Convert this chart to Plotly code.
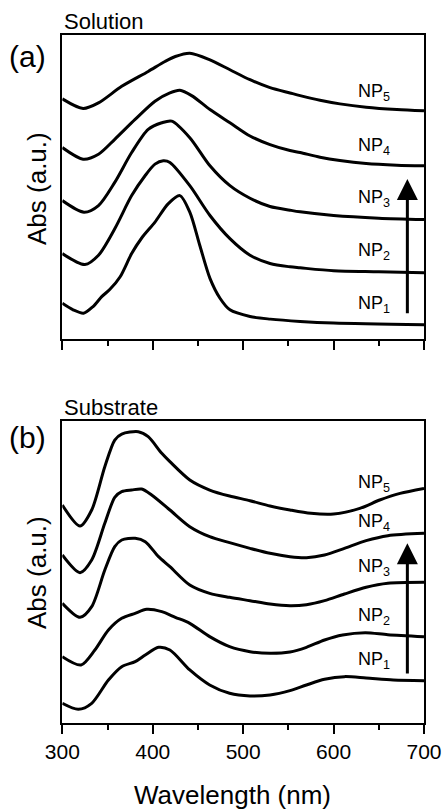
import plotly.graph_objects as go

FONT = "Liberation Sans, Arial, sans-serif"

# ---------- Panel (a): Solution ----------
sol_np1_x = [300, 312, 323.5, 334, 343.6, 352.7, 364, 376.7, 387.8, 402.5, 417, 430, 441, 452, 463.3, 474.4, 485.4, 507.6, 530, 563, 600, 700]
sol_np1_y = [1.05, 0.85, 0.75, 0.95, 1.25, 1.47, 1.85, 2.55, 3.02, 3.50, 4.05, 4.30, 3.80, 2.80, 1.80, 1.20, 0.85, 0.65, 0.57, 0.50, 0.45, 0.40]

sol_np2_x = [300, 325, 340, 358, 376.7, 391.5, 402.5, 411.7, 419, 441, 463.3, 485.4, 507.6, 529.7, 551.8, 563, 600, 650, 700]
sol_np2_y = [2.55, 2.22, 2.50, 3.30, 4.30, 4.90, 5.25, 5.35, 5.30, 4.60, 3.70, 3.00, 2.50, 2.25, 2.15, 2.12, 2.03, 2.00, 1.97]

sol_np3_x = [300, 324, 340, 358, 376.7, 395, 410, 421, 441, 463.3, 485.4, 507.6, 529.7, 551.8, 563, 600, 650, 700]
sol_np3_y = [4.15, 3.80, 4.00, 4.70, 5.60, 6.30, 6.50, 6.55, 6.05, 5.20, 4.60, 4.22, 3.97, 3.86, 3.81, 3.70, 3.62, 3.58]

sol_np4_x = [300, 323, 340, 358, 380.5, 402.5, 419, 430, 443, 463.3, 485.4, 507.6, 529.7, 551.8, 563, 585, 607, 636, 670, 700]
sol_np4_y = [5.75, 5.40, 5.55, 6.00, 6.60, 7.15, 7.40, 7.48, 7.32, 6.90, 6.50, 6.10, 5.84, 5.66, 5.60, 5.46, 5.36, 5.27, 5.22, 5.20]

sol_np5_x = [300, 323, 340, 365.7, 395, 413.6, 425, 441, 463.3, 485.4, 507.6, 529.7, 551.8, 563, 585, 607, 636, 670, 700]
sol_np5_y = [7.22, 6.93, 7.10, 7.60, 8.05, 8.35, 8.50, 8.60, 8.40, 8.10, 7.80, 7.56, 7.40, 7.32, 7.18, 7.07, 6.97, 6.90, 6.86]

# ---------- Panel (b): Substrate ----------
sub_np1_x = [300, 317.7, 332.5, 351, 365.7, 380.6, 391.7, 406.4, 419, 441, 463, 485, 507.6, 529.7, 551.8, 570, 590, 612, 636, 666, 700]
sub_np1_y = [0.60, 0.42, 0.60, 1.30, 1.70, 1.85, 2.05, 2.28, 2.20, 1.60, 1.15, 0.90, 0.82, 0.85, 0.98, 1.15, 1.32, 1.40, 1.36, 1.30, 1.28]

sub_np2_x = [300, 320.7, 336, 351, 365.7, 380.5, 393.3, 410, 425, 441, 463, 485, 507.6, 529.7, 551.8, 570, 590, 610, 635, 660, 700]
sub_np2_y = [2.00, 1.75, 2.20, 2.80, 3.15, 3.30, 3.42, 3.35, 3.18, 3.00, 2.60, 2.30, 2.15, 2.10, 2.14, 2.28, 2.50, 2.65, 2.72, 2.66, 2.60]

sub_np3_x = [300, 319.6, 332.5, 347, 358, 365.7, 380.6, 391.7, 406.4, 419, 441, 463, 485, 507.6, 529.7, 551.8, 570, 590, 612, 636, 660, 700]
sub_np3_y = [3.60, 3.18, 3.50, 4.60, 5.30, 5.50, 5.55, 5.45, 5.00, 4.70, 4.15, 3.90, 3.78, 3.68, 3.58, 3.53, 3.56, 3.68, 3.88, 4.08, 4.20, 4.23]

sub_np4_x = [300, 319.6, 332.5, 347, 358, 365.7, 376.8, 387.8, 398.8, 419, 441, 463, 485, 507.6, 529.7, 551.8, 570, 590, 612, 636, 660, 700]
sub_np4_y = [5.05, 4.52, 4.90, 6.00, 6.78, 6.95, 7.00, 7.03, 6.85, 6.40, 5.90, 5.60, 5.42, 5.25, 5.10, 5.00, 4.97, 5.05, 5.25, 5.48, 5.63, 5.70]

sub_np5_x = [300, 319.6, 332.5, 347, 358, 365.7, 384, 395, 410, 419, 441, 463, 485, 507.6, 529.7, 551.8, 575, 600, 629, 651, 673.5, 700]
sub_np5_y = [6.55, 5.92, 6.40, 7.70, 8.50, 8.68, 8.75, 8.60, 8.10, 7.85, 7.30, 7.00, 6.82, 6.68, 6.52, 6.40, 6.30, 6.28, 6.45, 6.70, 6.90, 7.05]

labels = ["NP<sub>1</sub>", "NP<sub>2</sub>", "NP<sub>3</sub>", "NP<sub>4</sub>", "NP<sub>5</sub>"]
label_x = 624.8
sol_label_y = [1.02, 2.62, 4.20, 5.78, 7.42]
sub_label_y = [1.88, 3.19, 4.68, 6.04, 7.21]

arrow_x = 681.6
sol_arrow = (0.70, 4.80)
sub_arrow = (1.45, 5.40)

x_ticks = [300, 400, 500, 600, 700]

sol_series = [(sol_np1_x, sol_np1_y), (sol_np2_x, sol_np2_y), (sol_np3_x, sol_np3_y),
              (sol_np4_x, sol_np4_y), (sol_np5_x, sol_np5_y)]
sub_series = [(sub_np1_x, sub_np1_y), (sub_np2_x, sub_np2_y), (sub_np3_x, sub_np3_y),
              (sub_np4_x, sub_np4_y), (sub_np5_x, sub_np5_y)]

W, H = 443, 809
fig = go.Figure()
line = dict(color="black", width=3, shape="spline", smoothing=0.8)
for i, (xs, ys) in enumerate(sol_series):
    fig.add_trace(go.Scatter(x=xs, y=ys, mode="lines", line=line, xaxis="x", yaxis="y",
                             showlegend=False, hoverinfo="skip", name=labels[i]))
for i, (xs, ys) in enumerate(sub_series):
    fig.add_trace(go.Scatter(x=xs, y=ys, mode="lines", line=line, xaxis="x2", yaxis="y2",
                             showlegend=False, hoverinfo="skip", name=labels[i]))

left, right = 62.3 / W, 424 / W
top_dom = [(H - 339) / H, (H - 35) / H]
bot_dom = [(H - 723.3) / H, (H - 420.7) / H]

xcommon = dict(range=[300, 700], showline=True, linecolor="black", linewidth=1.5, mirror=True,
               ticks="outside", ticklen=9, tickwidth=1.5, tickcolor="black",
               tickvals=x_ticks, showgrid=False, zeroline=False, automargin=False,
               minor=dict(ticks="outside", ticklen=5, tickwidth=1.5, tickcolor="black", dtick=50, showgrid=False),
               tickfont=dict(family=FONT, size=21, color="black"))
ycommon = dict(showline=True, linecolor="black", linewidth=1.5, mirror=True, ticks="",
               showticklabels=False, showgrid=False, zeroline=False, automargin=False)

fig.update_layout(
    width=W, height=H, margin=dict(l=0, r=0, t=0, b=0, autoexpand=False),
    paper_bgcolor="white", plot_bgcolor="white",
    xaxis=dict(xcommon, domain=[left, right], anchor="y", showticklabels=False),
    yaxis=dict(ycommon, domain=top_dom, anchor="x", range=[-0.03, 9.15]),
    xaxis2=dict(xcommon, domain=[left, right], anchor="y2", showticklabels=True),
    yaxis2=dict(ycommon, domain=bot_dom, anchor="x2", range=[0, 9.08]),
)

ann = []
for lab, ly in zip(labels, sol_label_y):
    ann.append(dict(x=label_x, y=ly, xref="x", yref="y", text=lab, showarrow=False,
                    xanchor="left", yanchor="middle", font=dict(family=FONT, size=18, color="black")))
for lab, ly in zip(labels, sub_label_y):
    ann.append(dict(x=label_x, y=ly, xref="x2", yref="y2", text=lab, showarrow=False,
                    xanchor="left", yanchor="middle", font=dict(family=FONT, size=18, color="black")))

ann.append(dict(x=arrow_x, y=sol_arrow[1], ax=arrow_x, ay=sol_arrow[0], xref="x", yref="y",
                axref="x", ayref="y", showarrow=True, arrowhead=2, arrowsize=1.4, arrowwidth=3,
                arrowcolor="black", text=""))
ann.append(dict(x=arrow_x, y=sub_arrow[1], ax=arrow_x, ay=sub_arrow[0], xref="x2", yref="y2",
                axref="x2", ayref="y2", showarrow=True, arrowhead=2, arrowsize=1.4, arrowwidth=3,
                arrowcolor="black", text=""))

def ptext(text, x, y, size, xanchor="left", angle=0):
    return dict(x=x / W, y=1 - y / H, xref="paper", yref="paper", text=text, showarrow=False,
                xanchor=xanchor, yanchor="middle", textangle=angle,
                font=dict(family=FONT, size=size, color="black"))

ann.append(ptext("Solution", 62, 22, 22))
ann.append(ptext("Substrate", 62, 408, 22))
ann.append(ptext("(a)", 27, 57, 30, xanchor="center"))
ann.append(ptext("(b)", 27, 437, 30, xanchor="center"))
ann.append(ptext("Abs (a.u.)", 37, 189, 26, xanchor="center", angle=-90))
ann.append(ptext("Abs (a.u.)", 37, 573, 26, xanchor="center", angle=-90))
ann.append(ptext("Wavelength (nm)", 233, 795, 26, xanchor="center"))

fig.update_layout(annotations=ann)
fig.write_html("out.html", config={"displayModeBar": False},
               post_script="document.body.style.margin='0';document.body.style.padding='0';")
